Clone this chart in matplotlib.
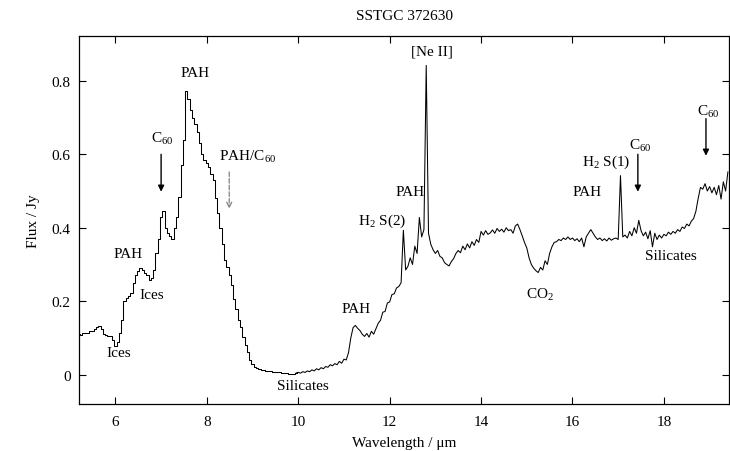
import numpy as np
import matplotlib
matplotlib.use("Agg")
import matplotlib.pyplot as plt

plt.rcParams['font.family'] = ['Liberation Serif', 'DejaVu Serif']
plt.rcParams['mathtext.fontset'] = 'custom'
plt.rcParams['mathtext.rm'] = 'Liberation Serif'
plt.rcParams['mathtext.it'] = 'Liberation Serif:italic'

# IRS spectrum, sampled every 0.05 um from 5.20 um
wave_start = 5.20
wave_step = 0.05
flux = [
    # 5.20 - 6.15
    0.110, 0.108, 0.112, 0.114, 0.113, 0.118, 0.120, 0.124, 0.131, 0.133,
    0.124, 0.110, 0.108, 0.104, 0.106, 0.095, 0.078, 0.090, 0.112, 0.150,
    # 6.20 - 7.15
    0.200, 0.210, 0.213, 0.222, 0.250, 0.270, 0.282, 0.290, 0.285, 0.276,
    0.270, 0.258, 0.262, 0.285, 0.330, 0.370, 0.430, 0.445, 0.400, 0.385,
    # 7.20 - 8.15
    0.378, 0.370, 0.400, 0.430, 0.485, 0.570, 0.640, 0.772, 0.750, 0.720,
    0.700, 0.683, 0.660, 0.630, 0.600, 0.585, 0.575, 0.565, 0.545, 0.530,
    # 8.20 - 9.15
    0.480, 0.440, 0.400, 0.355, 0.312, 0.292, 0.272, 0.243, 0.205, 0.178,
    0.150, 0.130, 0.103, 0.082, 0.062, 0.040, 0.028, 0.021, 0.018, 0.015,
    # 9.20 - 10.15
    0.013, 0.012, 0.011, 0.010, 0.009, 0.008, 0.007, 0.007, 0.006, 0.005,
    0.004, 0.004, 0.003, 0.002, 0.003, 0.004, 0.006, 0.004, 0.008, 0.006,
    # 10.20 - 11.15
    0.010, 0.008, 0.013, 0.010, 0.016, 0.013, 0.019, 0.016, 0.022, 0.020,
    0.027, 0.024, 0.030, 0.027, 0.036, 0.031, 0.042, 0.040, 0.060, 0.100,
    # 11.20 - 12.15
    0.128, 0.134, 0.126, 0.120, 0.110, 0.104, 0.112, 0.102, 0.118, 0.110,
    0.125, 0.140, 0.148, 0.170, 0.172, 0.195, 0.198, 0.218, 0.220, 0.236,
    # 12.20 - 13.15
    0.240, 0.250, 0.393, 0.285, 0.295, 0.318, 0.300, 0.350, 0.330, 0.428,
    0.375, 0.395, 0.842, 0.385, 0.355, 0.340, 0.330, 0.338, 0.322, 0.318,
    # 13.20 - 14.15
    0.305, 0.300, 0.296, 0.308, 0.316, 0.330, 0.338, 0.332, 0.350, 0.340,
    0.356, 0.345, 0.362, 0.352, 0.368, 0.360, 0.390, 0.380, 0.392, 0.382,
    # 14.20 - 15.15
    0.386, 0.394, 0.385, 0.398, 0.390, 0.396, 0.388, 0.400, 0.392, 0.395,
    0.385, 0.405, 0.410, 0.395, 0.378, 0.360, 0.345, 0.318, 0.300, 0.290,
    # 15.20 - 16.15
    0.283, 0.278, 0.292, 0.285, 0.310, 0.300, 0.330, 0.348, 0.360, 0.362,
    0.368, 0.365, 0.372, 0.368, 0.375, 0.368, 0.372, 0.365, 0.370, 0.362,
    # 16.20 - 17.15
    0.372, 0.348, 0.375, 0.385, 0.395, 0.385, 0.375, 0.368, 0.372, 0.365,
    0.370, 0.364, 0.372, 0.366, 0.370, 0.372, 0.368, 0.542, 0.375, 0.380,
    # 17.20 - 18.15
    0.372, 0.390, 0.378, 0.400, 0.385, 0.420, 0.392, 0.378, 0.388, 0.370,
    0.392, 0.348, 0.385, 0.368, 0.380, 0.372, 0.382, 0.378, 0.388, 0.382,
    # 18.20 - 19.15
    0.390, 0.385, 0.395, 0.390, 0.402, 0.398, 0.410, 0.405, 0.418, 0.425,
    0.445, 0.480, 0.510, 0.505, 0.520, 0.500, 0.512, 0.495, 0.510, 0.490,
    # 19.20 - 19.40
    0.515, 0.478, 0.525, 0.500, 0.552,
]
wavelength = wave_start + wave_step * np.arange(len(flux))
flux = np.array(flux)

# feature labels: (text, x, y)
labels = [
    ("PAH", 7.75, 0.824),
    (r"C$_{60}$", 7.03, 0.645),
    (r"PAH/C$_{60}$", 8.90, 0.596),
    ("PAH", 6.28, 0.330),
    ("Ices", 6.80, 0.218),
    ("Ices", 6.07, 0.060),
    ("Silicates", 10.10, -0.030),
    ("PAH", 11.27, 0.180),
    (r"H$_2$ S(2)", 11.84, 0.420),
    ("PAH", 12.45, 0.500),
    ("[Ne II]", 12.93, 0.882),
    (r"CO$_2$", 15.29, 0.220),
    ("PAH", 16.32, 0.500),
    (r"H$_2$ S(1)", 16.73, 0.582),
    (r"C$_{60}$", 17.48, 0.626),
    ("Silicates", 18.15, 0.324),
    (r"C$_{60}$", 18.96, 0.718),
]
# C60 arrows: (x, y_start, y_end)
c60_arrows = [(7.00, 0.600, 0.498), (17.43, 0.600, 0.498), (18.92, 0.697, 0.596)]
pah_c60_arrow = (8.49, 0.552, 0.452)

fig = plt.figure(figsize=(7.30, 4.52), dpi=100)
ax = fig.add_axes([0.108, 0.104, 0.891, 0.814])

# short-wavelength module drawn as histogram steps, long-wavelength as a line
sl = wavelength <= 10.0
ax.plot(wavelength[sl], flux[sl], color="black", lw=0.75, drawstyle="steps-mid")
ll = wavelength >= 9.95
ax.plot(wavelength[ll], flux[ll], color="black", lw=0.75)

for text, x, y in labels:
    ax.text(x, y, text, ha="center", va="center", fontsize=11)

for x, y0, y1 in c60_arrows:
    ax.annotate("", xy=(x, y1), xytext=(x, y0),
                arrowprops=dict(arrowstyle="-|>", color="black", lw=1.0,
                                mutation_scale=9, shrinkA=0, shrinkB=0))
x, y0, y1 = pah_c60_arrow
ax.annotate("", xy=(x, y1), xytext=(x, y0),
            arrowprops=dict(arrowstyle="->", color="gray", lw=0.9, ls="--",
                            mutation_scale=9, shrinkA=0, shrinkB=0))

ax.set_xlim(5.2, 19.43)
ax.set_ylim(-0.08, 0.922)
ax.set_xticks([6, 8, 10, 12, 14, 16, 18])
ax.set_yticks([0, 0.2, 0.4, 0.6, 0.8])
ax.set_yticklabels(["0", "0.2", "0.4", "0.6", "0.8"])
ax.tick_params(direction="in", top=True, right=True, length=5, width=0.8,
               labelsize=11, pad=8)
ax.tick_params(axis="y", pad=6)
for s in ax.spines.values():
    s.set_linewidth(0.9)

ax.set_xlabel("Wavelength / μm", fontsize=11, labelpad=6)
ax.set_ylabel("Flux / Jy", fontsize=11, labelpad=8)
ax.set_title("SSTGC 372630", fontsize=11, pad=12)

fig.savefig("out.png", dpi=100)
